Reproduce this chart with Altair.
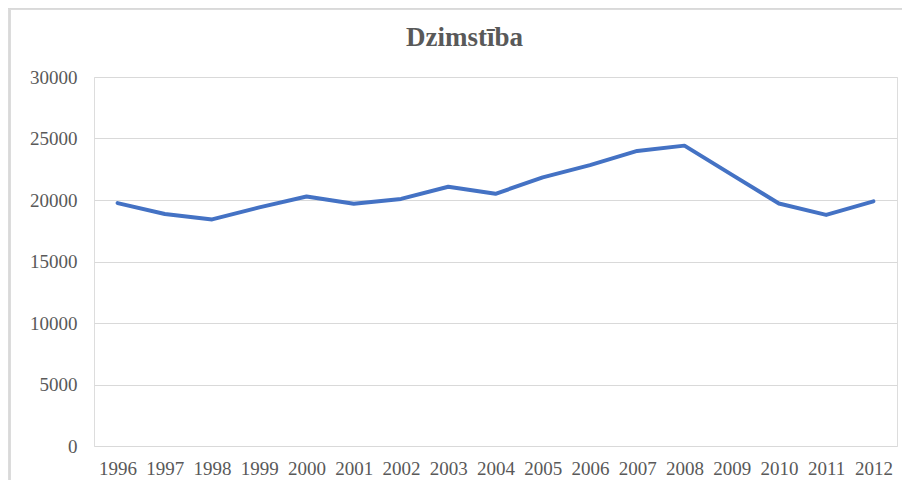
import altair as alt
import pandas as pd

years = ["1996", "1997", "1998", "1999", "2000", "2001", "2002", "2003", "2004",
         "2005", "2006", "2007", "2008", "2009", "2010", "2011", "2012"]
births = [19750, 18860, 18420, 19400, 20280, 19690, 20090, 21080, 20500,
          21840, 22840, 23990, 24420, 22060, 19720, 18790, 19890]
y_ticks = [0, 5000, 10000, 15000, 20000, 25000, 30000]
title_text = "Dzimstība"

df = pd.DataFrame({"year": years, "births": births})

W, H = 803, 369
PL, PT, PR, PB = 86, 69, 5, 34

line = alt.Chart(df).mark_line(
    color="#4472C4", strokeWidth=4, strokeCap="round", strokeJoin="round"
).encode(
    x=alt.X("year:O", sort=years, title=None,
            axis=alt.Axis(labelAngle=0, ticks=False, domain=False, grid=False,
                          labelPadding=13, labelFont="Liberation Serif",
                          labelFontSize=19, labelColor="#595959")),
    y=alt.Y("births:Q", title=None,
            scale=alt.Scale(domain=[0, 30000], nice=False),
            axis=alt.Axis(values=y_ticks, format="d", ticks=False, domain=False,
                          grid=True, gridColor="#d9d9d9", gridWidth=1.2,
                          labelPadding=17, labelFont="Liberation Serif",
                          labelFontSize=19, labelColor="#595959")),
)

top_edge = alt.Chart(df).mark_rule(stroke="#d9d9d9", strokeWidth=1.5).encode(
    x=alt.value(-84.5), x2=alt.value(W + PR + 10), y=alt.value(-68.5)
)
left_edge = alt.Chart(df).mark_rule(stroke="#d9d9d9", strokeWidth=1.5).encode(
    x=alt.value(-84.5), y=alt.value(-68.5), y2=alt.value(H + PB + 10)
)

chart = alt.layer(top_edge, left_edge, line).properties(
    width=W, height=H,
    title=alt.TitleParams(title_text, font="Liberation Serif", fontSize=27,
                          fontWeight="bold", color="#595959", anchor="middle",
                          baseline="alphabetic", offset=30, dx=-31, dy=95.5),
    autosize=alt.AutoSizeParams(type="none"),
    padding={"left": PL, "top": PT, "right": PR, "bottom": PB},
).configure_view(strokeWidth=0, strokeOpacity=0).configure(background="white")

chart.save("out.html", embed_options={"renderer": "svg", "actions": False})
